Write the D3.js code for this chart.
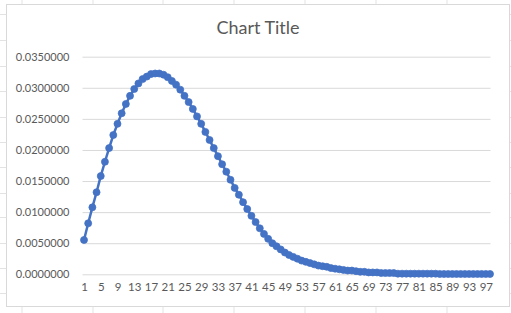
<!DOCTYPE html>
<html>
<head>
<meta charset="utf-8">
<script src="https://cdn.jsdelivr.net/npm/d3@7"></script>
<style>
  body { margin: 0; background: #fff; }
  svg { display: block; font-family: Lato, "Open Sans", sans-serif; }
</style>
</head>
<body>
<div id="chart"></div>
<script>
// values, one per category 1..98
const values = [
  0.00552, 0.00820, 0.01077, 0.01320, 0.01580, 0.01810, 0.02030, 0.02240, 0.02420, 0.02590,
  0.02740, 0.02870, 0.02980, 0.03070, 0.03140, 0.03180, 0.03220, 0.03230, 0.03230, 0.03210,
  0.03170, 0.03110, 0.03050, 0.02970, 0.02870, 0.02770, 0.02660, 0.02540, 0.02420, 0.02290,
  0.02160, 0.02030, 0.01900, 0.01770, 0.01650, 0.01520, 0.01390, 0.01280, 0.01160, 0.01050,
  0.00940, 0.00840, 0.00740, 0.00650, 0.00570, 0.00500, 0.00450, 0.00400, 0.00350, 0.00310,
  0.00280, 0.00250, 0.00220, 0.00200, 0.00180, 0.00160, 0.00140, 0.00130, 0.00120, 0.00100,
  0.00090, 0.00080, 0.00070, 0.00060, 0.00060, 0.00050, 0.00040, 0.00040, 0.00030, 0.00030,
  0.00030, 0.00020, 0.00020, 0.00020, 0.00020, 0.00010, 0.00010, 0.00010, 0.00010, 0.00010,
  0.00010, 0.00010, 0.00010, 0.00010, 0.00010, 0.00005, 0.00005, 0.00005, 0.00005, 0.00005,
  0.00005, 0.00005, 0.00005, 0.00005, 0.00005, 0.00005, 0.00005, 0.00005
];
const categories = values.map((v, i) => i + 1);
const xTickLabels = categories.filter(c => (c - 1) % 4 === 0);
const yTicks = [0, 0.005, 0.01, 0.015, 0.02, 0.025, 0.03, 0.035];
const chartTitle = "Chart Title";

const W = 511, H = 313;
const svg = d3.select('#chart').append('svg').attr('width', W).attr('height', H);

// spreadsheet cell grid behind the chart
const sheetCols = [22, 93, 163, 234, 305, 376, 447];
const sheetRows = [14, 40, 66, 91, 117, 142, 167, 193, 217, 243, 268, 293];
svg.append('g').selectAll('line').data(sheetCols).join('line')
  .attr('x1', d => d).attr('x2', d => d).attr('y1', 0).attr('y2', H)
  .attr('stroke', '#e3e3e3').attr('stroke-width', 1);
svg.append('g').selectAll('line').data(sheetRows).join('line')
  .attr('x1', 0).attr('x2', W).attr('y1', d => d + 0.5).attr('y2', d => d + 0.5)
  .attr('stroke', '#e3e3e3').attr('stroke-width', 1);

// chart area
svg.append('rect')
  .attr('x', 6.5).attr('y', 4.5).attr('width', 503).attr('height', 302)
  .attr('fill', '#fff').attr('stroke', '#d9d9d9').attr('stroke-width', 1);

svg.append('text')
  .attr('x', 258).attr('y', 34)
  .attr('text-anchor', 'middle')
  .style('font-size', '18px')
  .style('fill', '#595959')
  .text(chartTitle);

const x = d3.scalePoint().domain(categories).range([84, 490]);
const y = d3.scaleLinear().domain([0, 0.035]).range([274.3, 56.7]);

// y axis: gridlines + labels
const yAxis = d3.axisLeft(y)
  .tickValues(yTicks)
  .tickFormat(d3.format('.7f'))
  .tickSize(-408)
  .tickPadding(13);
const yg = svg.append('g').attr('transform', 'translate(82.5,0)').call(yAxis);
yg.select('.domain').remove();
yg.selectAll('.tick line').attr('stroke', '#d9d9d9').attr('stroke-width', 1);
yg.selectAll('.tick text').attr('fill', '#595959').style('font-size', '11px').style('font-family', 'Lato, sans-serif');

// x axis labels
const xAxis = d3.axisBottom(x).tickValues(xTickLabels).tickSize(0).tickPadding(9);
const xg = svg.append('g').attr('transform', 'translate(0,274.3)').call(xAxis);
xg.select('.domain').remove();
xg.selectAll('.tick text').attr('fill', '#595959').style('font-size', '11.5px').style('font-family', 'Lato, sans-serif');

// series
const line = d3.line().x((d, i) => x(categories[i])).y(d => y(d));
svg.append('path')
  .datum(values)
  .attr('d', line)
  .attr('fill', 'none')
  .attr('stroke', '#4472c4')
  .attr('stroke-width', 2.5)
  .attr('stroke-linejoin', 'round');

svg.append('g').selectAll('circle').data(values).join('circle')
  .attr('cx', (d, i) => x(categories[i]))
  .attr('cy', d => y(d))
  .attr('r', 3.5)
  .attr('fill', '#4472c4')
  .attr('stroke', '#4472c4')
  .attr('stroke-width', 0.75);
</script>
</body>
</html>
